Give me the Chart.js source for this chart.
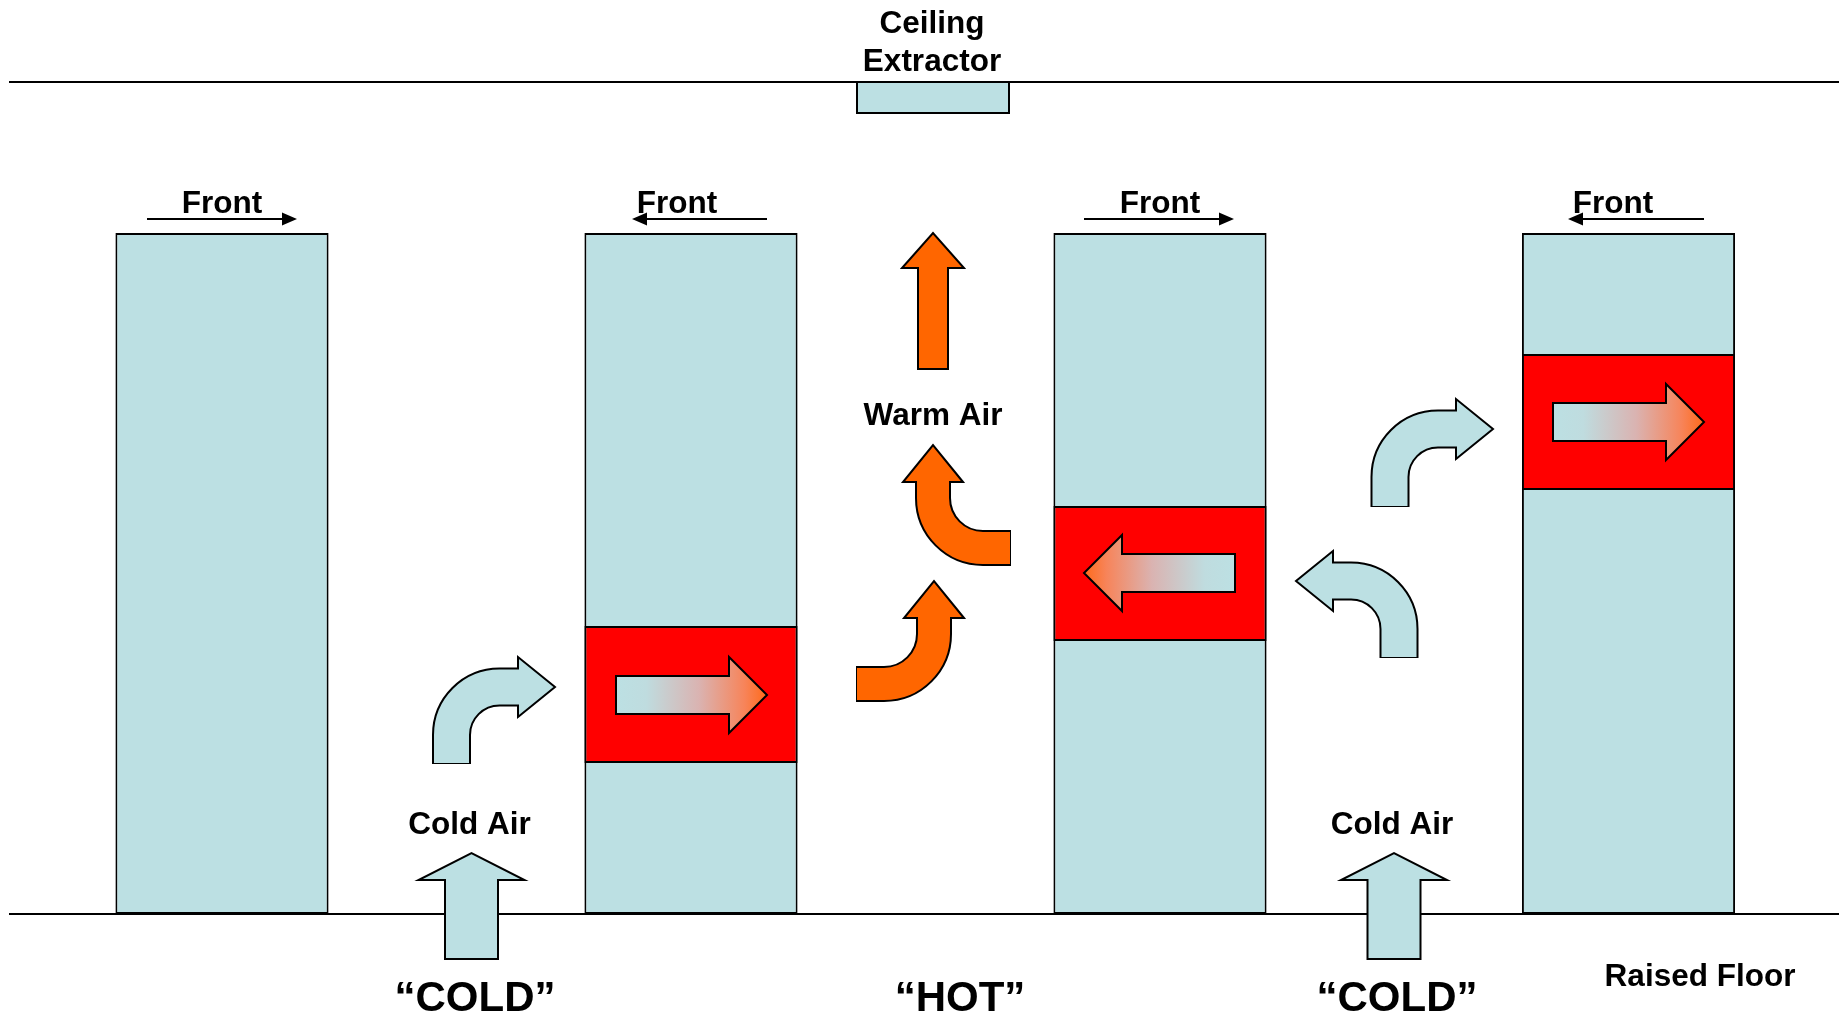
<!DOCTYPE html>
<html>
<head>
<meta charset="utf-8">
<script src="https://cdn.jsdelivr.net/npm/chart.js@4.4.1/dist/chart.umd.min.js"></script>
<style>
  html, body { margin: 0; padding: 0; background: #fff; }
  #wrap { width: 1845px; height: 1017px; }
</style>
</head>
<body>
<div id="wrap"><canvas id="chart"></canvas></div>
<script>
// 단위: 가로는 왼쪽 끝부터, 세로는 바닥(0)부터 잰 값
const rackCenters = [222, 691, 1160, 1628.5];
const rackSpan = [0, 681];
const hotBands = [null, [151, 288], [273, 408], [424, 560]];
const roomEnds = [9, 1839];
const floorLevel = 0;
const ceilingLevel = 832;
const extractorX = [857, 1009];
const extractorY = [801, 832];

// 랙 위의 "Front" 표시
const frontArrows = [[147, 297], [767, 632], [1084, 1234], [1704, 1568]];
const frontArrowLevel = 695;
const frontLabelX = [222, 677, 1160, 1613];
const frontLabelLevel = 701;

// 랙을 지나가는 공기 (tail x, tip x, 높이)
const rackFlows = [[616, 767, 219], [1235, 1084, 341], [1553, 1704, 492]];
// 바닥에서 올라오는 찬 공기 (x, tail, tip)
const floorInlets = [[471.5, -45, 61], [1394, -45, 61]];
// 꺾인 화살표: tail, corner, tip
const coldBends = [
  [[451.5, 151], [451.5, 227], [555, 227]],
  [[1390, 408], [1390, 485], [1493, 485]],
  [[1399, 257], [1399, 333], [1296, 333]]
];
const warmBends = [
  [[857, 230], [934, 230], [934, 333]],
  [[1010, 366], [933, 366], [933, 469]]
];
const warmExhaust = [933, 545, 681];

const labels = ['Ceiling', 'Extractor', 'Warm Air', 'Cold Air', 'Cold Air', 'Raised Floor'];
const labelX = [932, 932, 933, 469.5, 1392, 1700];
const labelY = [881, 843, 489, 80, 80, -72];
const zoneLabels = ['\u201CCOLD\u201D', '\u201CHOT\u201D', '\u201CCOLD\u201D'];
const zoneX = [475, 960, 1397];
const zoneLevel = -97;

// 색상
const LIGHT = '#bce0e3';
const RED = '#ff0000';
const ORANGE = '#ff6600';
const FONT = '"Liberation Sans", Arial, sans-serif';

function straightArrow(ctx, a, b, w, hw, hl, fill) {
  const dx = b.x - a.x, dy = b.y - a.y, len = Math.hypot(dx, dy);
  const ux = dx / len, uy = dy / len, nx = -uy, ny = ux;
  const bx = b.x - ux * hl, by = b.y - uy * hl;
  ctx.beginPath();
  ctx.moveTo(a.x + nx * w / 2, a.y + ny * w / 2);
  ctx.lineTo(bx + nx * w / 2, by + ny * w / 2);
  ctx.lineTo(bx + nx * hw, by + ny * hw);
  ctx.lineTo(b.x, b.y);
  ctx.lineTo(bx - nx * hw, by - ny * hw);
  ctx.lineTo(bx - nx * w / 2, by - ny * w / 2);
  ctx.lineTo(a.x - nx * w / 2, a.y - ny * w / 2);
  ctx.closePath();
  ctx.fillStyle = fill;
  ctx.fill();
  ctx.lineWidth = 2;
  ctx.lineJoin = 'miter';
  ctx.strokeStyle = '#000';
  ctx.stroke();
}

function bentArrow(ctx, a, c, t, s, fill) {
  const dx = t.x - c.x, dy = t.y - c.y, len = Math.hypot(dx, dy);
  const ux = dx / len, uy = dy / len, nx = -uy, ny = ux;
  const bx = t.x - ux * s.hl, by = t.y - uy * s.hl;
  const ax = a.x - c.x, ay = a.y - c.y, al = Math.hypot(ax, ay);
  const shaft = (back, fwd) => {
    ctx.beginPath();
    ctx.moveTo(a.x + ax / al * back, a.y + ay / al * back);
    ctx.arcTo(c.x, c.y, bx, by, s.r);
    ctx.lineTo(bx + ux * fwd, by + uy * fwd);
  };
  ctx.lineCap = 'butt';
  ctx.lineJoin = 'miter';
  // 테두리
  shaft(1, 0);
  ctx.lineWidth = s.w + 4;
  ctx.strokeStyle = '#000';
  ctx.stroke();
  // 머리
  ctx.beginPath();
  ctx.moveTo(bx + nx * s.hw, by + ny * s.hw);
  ctx.lineTo(t.x, t.y);
  ctx.lineTo(bx - nx * s.hw, by - ny * s.hw);
  ctx.closePath();
  ctx.fillStyle = fill;
  ctx.fill();
  ctx.lineWidth = 2;
  ctx.stroke();
  // 몸통
  shaft(0, 2);
  ctx.lineWidth = s.w;
  ctx.strokeStyle = fill;
  ctx.stroke();
}

const diagramPlugin = {
  id: 'diagram',
  afterDatasetsDraw(chart) {
    const { ctx, scales: { x, y } } = chart;
    const P = (u, v) => ({ x: x.getPixelForValue(u), y: y.getPixelForValue(v) });
    ctx.save();

    // 천장 배기구
    const e0 = P(extractorX[0], extractorY[1]);
    const e1 = P(extractorX[1], extractorY[0]);
    ctx.fillStyle = LIGHT;
    ctx.fillRect(e0.x, e0.y, e1.x - e0.x, e1.y - e0.y);
    ctx.lineWidth = 2;
    ctx.strokeStyle = '#000';
    ctx.strokeRect(e0.x, e0.y, e1.x - e0.x, e1.y - e0.y);

    // Front 화살표
    frontArrows.forEach(([from, to]) => {
      const a = P(from, frontArrowLevel), b = P(to, frontArrowLevel);
      const dir = Math.sign(b.x - a.x);
      ctx.beginPath();
      ctx.moveTo(a.x, a.y);
      ctx.lineTo(b.x - dir * 10, b.y);
      ctx.lineWidth = 2;
      ctx.strokeStyle = '#000';
      ctx.stroke();
      ctx.beginPath();
      ctx.moveTo(b.x, b.y);
      ctx.lineTo(b.x - dir * 15, b.y - 6.5);
      ctx.lineTo(b.x - dir * 15, b.y + 6.5);
      ctx.closePath();
      ctx.fillStyle = '#000';
      ctx.fill();
    });

    // 랙 내부 흐름 (그라데이션)
    rackFlows.forEach(([from, to, lvl]) => {
      const a = P(from, lvl), b = P(to, lvl);
      const g = ctx.createLinearGradient(a.x, a.y, b.x, b.y);
      g.addColorStop(0, LIGHT);
      g.addColorStop(0.2, '#bfdcdf');
      g.addColorStop(0.55, '#dab3b1');
      g.addColorStop(0.85, '#f7845a');
      g.addColorStop(1, '#ff6a1a');
      straightArrow(ctx, a, b, 38, 38, 38, g);
    });

    // 바닥 흡입구
    floorInlets.forEach(([px, from, to]) => {
      straightArrow(ctx, P(px, from), P(px, to), 53, 53, 27, LIGHT);
    });

    // 위로 나가는 더운 공기
    straightArrow(ctx, P(warmExhaust[0], warmExhaust[1]), P(warmExhaust[0], warmExhaust[2]), 30, 31, 35, ORANGE);

    const coldStyle = { w: 35, hw: 30, hl: 37, r: 48 };
    coldBends.forEach(([a, c, t]) => {
      bentArrow(ctx, P(a[0], a[1]), P(c[0], c[1]), P(t[0], t[1]), coldStyle, LIGHT);
    });
    const warmStyle = { w: 32, hw: 30, hl: 37, r: 50 };
    warmBends.forEach(([a, c, t]) => {
      bentArrow(ctx, P(a[0], a[1]), P(c[0], c[1]), P(t[0], t[1]), warmStyle, ORANGE);
    });

    // 글자
    ctx.fillStyle = '#000';
    ctx.textAlign = 'center';
    ctx.textBaseline = 'alphabetic';
    ctx.font = 'bold 31.5px ' + FONT;
    labels.forEach((txt, i) => {
      const p = P(labelX[i], labelY[i]);
      ctx.fillText(txt, p.x, p.y);
    });
    frontLabelX.forEach(fx => {
      const p = P(fx, frontLabelLevel);
      ctx.fillText('Front', p.x, p.y);
    });
    ctx.font = 'bold 42px ' + FONT;
    zoneLabels.forEach((txt, i) => {
      const p = P(zoneX[i], zoneLevel);
      ctx.fillText(txt, p.x, p.y);
    });
    ctx.restore();
  }
};

new Chart(document.getElementById('chart'), {
  type: 'bar',
  data: {
    datasets: [
      {
        label: 'Racks',
        data: rackCenters.map(c => ({ x: c, y: rackSpan })),
        backgroundColor: LIGHT,
        borderColor: '#000',
        borderWidth: 2,
        borderSkipped: false,
        grouped: false,
        barPercentage: 0.455,
        categoryPercentage: 1,
        order: 3
      },
      {
        label: 'Hot',
        data: rackCenters.map((c, i) => hotBands[i] ? { x: c, y: hotBands[i] } : null).filter(Boolean),
        backgroundColor: RED,
        borderColor: '#000',
        borderWidth: 2,
        borderSkipped: false,
        grouped: false,
        barPercentage: 0.455,
        categoryPercentage: 1,
        order: 2
      },
      {
        type: 'line',
        label: 'Ceiling',
        data: roomEnds.map(v => ({ x: v, y: ceilingLevel })),
        borderColor: '#000',
        borderWidth: 2,
        pointRadius: 0,
        order: 1
      },
      {
        type: 'line',
        label: 'Floor',
        data: roomEnds.map(v => ({ x: v, y: floorLevel })),
        borderColor: '#000',
        borderWidth: 2,
        pointRadius: 0,
        order: 1
      }
    ]
  },
  options: {
    responsive: true,
    maintainAspectRatio: false,
    animation: false,
    events: [],
    layout: { padding: 0 },
    plugins: { legend: { display: false }, tooltip: { enabled: false } },
    scales: {
      x: { type: 'linear', min: 0, max: 1845, offset: false, display: false, ticks: { stepSize: 1845 } },
      y: { type: 'linear', min: -103, max: 914, display: false }
    }
  },
  plugins: [diagramPlugin]
});
</script>
</body>
</html>
